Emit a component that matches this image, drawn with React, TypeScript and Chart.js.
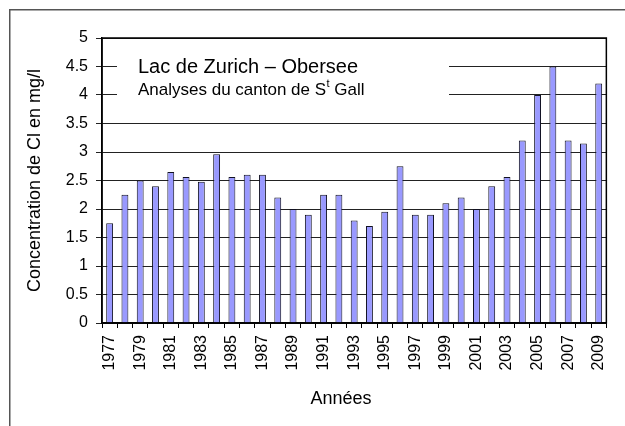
import React, { useEffect, useRef } from "react";
import { Chart, registerables } from "chart.js";

Chart.register(...registerables);

const years: string[] = [
  "1977", "1978", "1979", "1980", "1981", "1982", "1983", "1984", "1985", "1986", "1987",
  "1988", "1989", "1990", "1991", "1992", "1993", "1994", "1995", "1996", "1997", "1998",
  "1999", "2000", "2001", "2002", "2003", "2004", "2005", "2006", "2007", "2008", "2009",
];
const chloride: number[] = [
  1.75, 2.25, 2.5, 2.4, 2.65, 2.56, 2.48, 2.96, 2.56, 2.6, 2.6,
  2.2, 2.0, 1.9, 2.25, 2.25, 1.8, 1.7, 1.95, 2.75, 1.9, 1.9,
  2.1, 2.2, 2.0, 2.4, 2.56, 3.2, 4.0, 4.5, 3.2, 3.15, 4.2,
];
const titleLine1 = "Lac de Zurich – Obersee";
const titleLine2a = "Analyses du canton de S";
const titleSup = "t";
const titleLine2b = " Gall";
const yTitle = "Concentration de Cl en mg/l";
const xTitle = "Années";

const FONT = "Arial, 'Liberation Sans', sans-serif";

const framePlugin = {
  id: "frameAndNote",
  beforeDatasetsDraw(chart: any) {
    const ctx = chart.ctx;
    ctx.save();
    ctx.fillStyle = "#ffffff";
    ctx.fillRect(117, 50, 332, 60);
    ctx.fillStyle = "#000000";
    ctx.textBaseline = "alphabetic";
    ctx.textAlign = "left";
    ctx.font = `20px ${FONT}`;
    ctx.fillText(titleLine1, 138, 73);
    ctx.font = `17px ${FONT}`;
    const w1 = ctx.measureText(titleLine2a).width;
    ctx.fillText(titleLine2a, 138, 95);
    ctx.font = `11px ${FONT}`;
    ctx.fillText(titleSup, 138 + w1 + 0.5, 87);
    const w2 = ctx.measureText(titleSup).width;
    ctx.font = `17px ${FONT}`;
    ctx.fillText(titleLine2b, 138 + w1 + w2 + 0.5, 95);
    ctx.restore();
  },
  afterDraw(chart: any) {
    const ctx = chart.ctx;
    const a = chart.chartArea;
    ctx.save();
    ctx.strokeStyle = "#000000";
    ctx.lineWidth = 1.5;
    ctx.strokeRect(a.left, a.top, a.right - a.left, a.bottom - a.top);
    ctx.strokeStyle = "#555555";
    ctx.lineWidth = 1.5;
    ctx.strokeRect(9.75, 9.75, 640, 440);
    ctx.fillStyle = "#000000";
    ctx.font = `18px ${FONT}`;
    ctx.textAlign = "center";
    ctx.textBaseline = "middle";
    ctx.fillText(xTitle, 341, 399);
    ctx.restore();
  },
};

export default function App() {
  const ref = useRef<HTMLCanvasElement | null>(null);
  useEffect(() => {
    if (!ref.current) return;
    const chart = new Chart(ref.current, {
      type: "bar",
      data: {
        labels: years,
        datasets: [
          {
            data: chloride,
            backgroundColor: "#9999ff",
            borderColor: "#111122",
            borderWidth: 1,
            barPercentage: 0.45,
            categoryPercentage: 1,
          },
        ],
      },
      options: {
        animation: false,
        responsive: false,
        devicePixelRatio: 1,
        layout: { padding: { left: 0, right: 6, top: 38, bottom: 0 } },
        plugins: {
          legend: { display: false },
          tooltip: { enabled: false },
        },
        scales: {
          x: {
            offset: true,
            afterFit: (s: any) => {
              s.height = 103;
            },
            grid: {
              offset: true,
              drawOnChartArea: false,
              drawTicks: true,
              tickLength: 5,
              color: "#000000",
              lineWidth: 1,
            },
            border: { display: true, color: "#000000", width: 1.5 },
            ticks: {
              autoSkip: false,
              maxRotation: 90,
              minRotation: 90,
              padding: 7,
              color: "#000000",
              font: { family: FONT, size: 16 },
              callback: (_v: any, i: number) => (i % 2 === 0 ? years[i] : ""),
            },
          },
          y: {
            min: 0,
            max: 5,
            afterFit: (s: any) => {
              s.width = 102;
            },
            grid: {
              color: "#222222",
              lineWidth: 1,
              tickLength: 6,
            },
            border: { display: true, color: "#000000", width: 1.5 },
            ticks: {
              stepSize: 0.5,
              padding: 8,
              color: "#000000",
              font: { family: FONT, size: 16 },
              callback: (v: any) => String(Math.round(Number(v) * 10) / 10),
            },
            title: {
              display: true,
              text: yTitle,
              color: "#000000",
              font: { family: FONT, size: 18 },
              padding: { top: 24, bottom: 0 },
            },
          },
        },
      },
      plugins: [framePlugin],
    });
    return () => chart.destroy();
  }, []);
  return (
    <div style={{ position: "absolute", left: 0, top: 0, width: 625, height: 426, background: "#fff" }}>
      <canvas ref={ref} width={625} height={426} />
    </div>
  );
}
